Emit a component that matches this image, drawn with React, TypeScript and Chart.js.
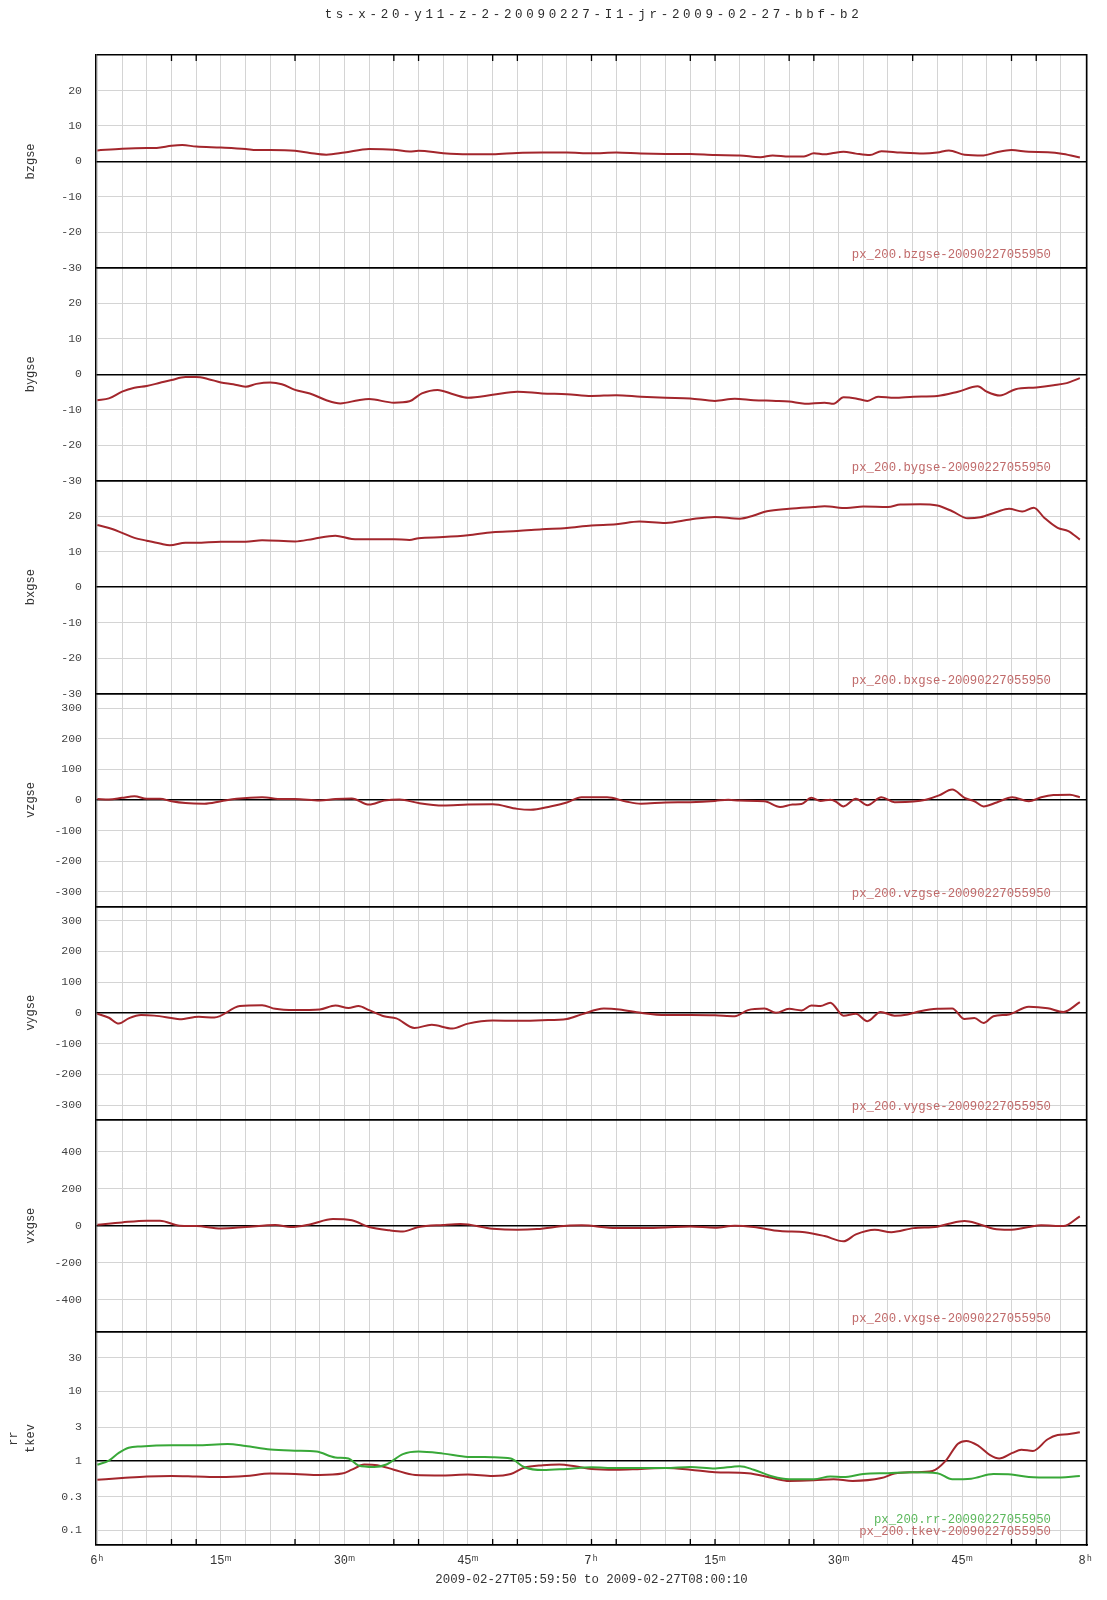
import React, { useEffect, useRef } from 'react';
import Chart from 'chart.js/auto';

const TITLE = 'ts-x-20-y11-z-2-20090227-I1-jr-2009-02-27-bbf-b2';
const X_TITLE = '2009-02-27T05:59:50 to 2009-02-27T08:00:10';

// x in minutes after 06:00
const X_MIN = -10 / 60;
const X_MAX = 120 + 10 / 60;
const xLabelMinutes = [0, 15, 30, 45, 60, 75, 90, 105, 120];
const xLabelTexts = ['6ʰ', '15ᵐ', '30ᵐ', '45ᵐ', '7ʰ', '15ᵐ', '30ᵐ', '45ᵐ', '8ʰ'];
const markMinutes = [9, 12, 24, 36, 39, 48, 51, 60, 63, 72, 75, 84, 87, 99, 111, 114];

const bzgse: [number, number][] = [
  [0, 3.1], [3, 3.6], [6, 3.8], [7.2, 3.8], [9, 4.4], [10.3, 4.6], [12, 4.2], [15, 3.9], [18, 3.5], [19.3, 3.2],
  [21, 3.2], [24, 3.0], [25.8, 2.4], [27.8, 1.9], [30, 2.5], [33, 3.5], [36, 3.3], [37.9, 2.8], [39, 3.0], [42, 2.3],
  [45, 2.0], [48, 2.0], [51, 2.4], [54, 2.5], [57, 2.5], [60, 2.3], [63, 2.5], [66, 2.2], [69, 2.1], [72, 2.1],
  [75, 1.8], [78, 1.7], [80.5, 1.2], [82, 1.7], [84, 1.4], [85.8, 1.4], [87, 2.3], [88.3, 2.0], [89.2, 2.3], [90.6, 2.7],
  [92.1, 2.2], [93.8, 1.8], [95.2, 2.9], [97.5, 2.5], [100.3, 2.2], [102, 2.5], [103.4, 3.1], [105.3, 1.9], [107.6, 1.7], [109.2, 2.6],
  [111, 3.2], [113.1, 2.7], [115.4, 2.6], [117.3, 2.1], [119.3, 1.1],
];

const bygse: [number, number][] = [
  [0, -7.3], [1.4, -6.8], [3, -4.9], [4.5, -3.8], [6, -3.3], [7.6, -2.4], [9, -1.6], [10.7, -0.8], [12, -0.8], [13.4, -1.3],
  [15, -2.3], [16.5, -2.8], [18, -3.5], [19.3, -2.7], [21, -2.3], [22.4, -2.8], [24, -4.4], [25.8, -5.4], [27.8, -7.3], [29.5, -8.2],
  [31.7, -7.3], [33, -7.0], [36, -8.0], [37.9, -7.6], [39.4, -5.4], [41.3, -4.4], [43.3, -5.7], [45, -6.6], [48, -5.8], [51, -4.9],
  [54, -5.4], [57, -5.6], [60, -6.1], [63, -5.9], [66, -6.3], [69, -6.6], [72, -6.8], [75, -7.5], [77.4, -6.9], [79.7, -7.3],
  [82.4, -7.5], [84, -7.7], [85.9, -8.3], [88.3, -8.0], [89.4, -8.3], [90.6, -6.5], [92.1, -6.8], [93.5, -7.5], [94.8, -6.3], [96.8, -6.6],
  [99.1, -6.3], [102, -6.1], [104.5, -4.9], [106.9, -3.4], [108, -4.9], [109.6, -6.0], [111.5, -4.2], [114, -3.7], [116.1, -3.1], [117.7, -2.5],
  [119.3, -1.1],
];

const bxgse: [number, number][] = [
  [0, 17.5], [1.8, 16.4], [3, 15.3], [4.5, 13.9], [6, 13.1], [7.6, 12.3], [8.8, 11.8], [10.7, 12.5], [12, 12.5], [15, 12.8],
  [18, 12.8], [20, 13.2], [24, 12.9], [26.2, 13.6], [28.9, 14.5], [30.9, 13.6], [33, 13.5], [36, 13.5], [37.9, 13.3], [39, 13.8],
  [42, 14.1], [45, 14.6], [48, 15.5], [51, 15.8], [54, 16.3], [57, 16.7], [60, 17.4], [63, 17.7], [65.8, 18.5], [69, 18.1],
  [72, 19.1], [75, 19.8], [78, 19.3], [79.7, 20.2], [81.3, 21.4], [84, 22.1], [87, 22.6], [88.3, 22.8], [91, 22.3], [93, 22.7],
  [96, 22.6], [97.5, 23.3], [99.9, 23.4], [102, 23.0], [103.8, 21.4], [105.7, 19.4], [107.2, 19.7], [109.2, 21.2], [110.7, 22.1], [112.3, 21.3],
  [113.7, 22.4], [115, 19.5], [116.6, 16.7], [117.9, 15.8], [119.3, 13.4],
];

const vzgse: [number, number][] = [
  [0, 3], [1.4, 2], [3, 7], [4.5, 12], [6, 4], [7.6, 4], [9, -4], [10.7, -10], [13, -12], [15, -4],
  [16.9, 4], [20, 9], [22.4, 3], [24, 3], [27, -2], [28.9, 3], [30.9, 5], [33, -15], [34.8, -2], [36.7, 2],
  [39, -10], [42, -18], [45, -15], [48, -14], [51, -29], [52.6, -32], [55, -21], [57, -8], [58.8, 9], [61.9, 9],
  [64.2, -5], [66, -12], [69, -8], [72, -7], [75, -3], [76.6, 1], [78, -2], [81, -4], [82.9, -23], [84.4, -15],
  [85.5, -13], [86.7, 7], [87.8, -3], [89, 1], [89.6, -4], [90.6, -21], [92.1, 4], [93.5, -17], [95.2, 9], [96.8, -7],
  [99.1, -5], [100.6, 1], [102.2, 15], [103.8, 34], [105.3, 7], [106.5, -4], [107.6, -21], [109.2, -8], [111.1, 9], [113.1, -4],
  [114.6, 9], [116.1, 16], [118.1, 17], [119.3, 9],
];

const vygse: [number, number][] = [
  [0, -3], [1.4, -16], [2.6, -35], [3.8, -18], [5.3, -7], [6.9, -9], [9, -17], [10, -21], [12.3, -13], [14.2, -15],
  [17.3, 22], [20, 25], [21.6, 13], [24, 9], [27, 11], [28.9, 24], [30.5, 16], [31.7, 22], [33, 9], [34.8, -11],
  [36.3, -18], [38.5, -49], [40.6, -39], [43.1, -51], [45, -35], [48, -25], [51, -26], [54, -24], [57, -20], [58.8, -5],
  [61.5, 14], [63.4, 11], [66, 0], [69, -7], [72, -7], [75, -8], [77.4, -11], [79, 9], [81, 14], [82.4, 0],
  [84, 13], [85.5, 8], [86.7, 24], [87.8, 22], [89, 33], [90.6, -9], [92.1, -3], [93.5, -27], [95.1, 3], [96.8, -9],
  [98.4, -5], [99.9, 5], [102, 13], [103.8, 14], [105.3, -20], [106.5, -17], [107.6, -33], [108.8, -11], [110.7, -5], [113.1, 20],
  [115.4, 15], [117.3, 3], [119.3, 35],
];

const vxgse: [number, number][] = [
  [0, 5], [3, 18], [6, 27], [7.6, 27], [10, 0], [12, -2], [15, -15], [18, -7], [21.6, 4], [23.5, -7],
  [25.8, 7], [28.6, 36], [30.9, 29], [33, -7], [35.5, -25], [37.1, -31], [39, -7], [42, 4], [44.1, 9], [48, -16],
  [51, -22], [53.4, -18], [57, 0], [58.8, 2], [63, -13], [66, -13], [69, -9], [72, -4], [75, -11], [77.4, 0],
  [79.7, -7], [82.9, -29], [85.9, -35], [88.3, -56], [90.6, -84], [92.1, -47], [94.4, -22], [96.4, -35], [99.1, -13], [102, -5],
  [103.4, 11], [105.3, 25], [106.9, 11], [108.8, -16], [110.7, -22], [113.1, -7], [114.6, 2], [117.3, -2], [119.3, 51],
];

const rr: [number, number][] = [
  [0, 0.87], [1.4, 1.0], [2.6, 1.29], [3.8, 1.53], [5.3, 1.6], [9, 1.66], [12, 1.66], [15.8, 1.73], [18, 1.62], [21, 1.44],
  [24, 1.39], [26.6, 1.35], [28.9, 1.11], [30.5, 1.07], [31.7, 0.85], [33.6, 0.81], [35.1, 0.88], [37.1, 1.24], [39, 1.35], [42, 1.26],
  [45, 1.13], [48, 1.12], [50.2, 1.07], [51.8, 0.81], [54.1, 0.73], [57, 0.76], [60, 0.8], [63, 0.78], [66, 0.78], [69, 0.78],
  [72, 0.81], [75, 0.77], [78, 0.83], [79.7, 0.74], [82, 0.59], [84, 0.54], [87, 0.54], [89, 0.59], [90.6, 0.58], [93, 0.64],
  [96, 0.66], [99, 0.68], [102, 0.66], [103.8, 0.54], [106.1, 0.55], [108.8, 0.64], [111, 0.63], [113.1, 0.58], [116.1, 0.57], [119.3, 0.6],
];

const tkev: [number, number][] = [
  [0, 0.53], [3, 0.56], [6, 0.59], [9, 0.6], [12, 0.59], [15, 0.58], [18, 0.6], [21, 0.65], [24, 0.64], [27, 0.62],
  [29.7, 0.65], [30.9, 0.74], [32.4, 0.88], [34, 0.86], [36, 0.74], [38.6, 0.62], [42, 0.61], [45, 0.63], [48, 0.6], [50.2, 0.64],
  [51.8, 0.79], [54.1, 0.86], [56.1, 0.88], [58, 0.83], [60, 0.76], [63, 0.74], [66, 0.76], [69, 0.78], [72, 0.74], [75, 0.68],
  [79, 0.66], [82, 0.56], [84, 0.51], [87, 0.52], [89.4, 0.54], [91.7, 0.51], [95.2, 0.56], [96.8, 0.65], [99, 0.68], [101.4, 0.71],
  [103, 0.99], [104.5, 1.75], [105.5, 1.92], [106.9, 1.66], [108.4, 1.2], [109.5, 1.07], [111.1, 1.29], [112.2, 1.43], [113.6, 1.38], [115.4, 2.03],
  [116.6, 2.33], [117.8, 2.39], [119.3, 2.56],
];

const bTicks = [-30, -20, -10, 0, 10, 20];
const vTicks = [-300, -200, -100, 0, 100, 200, 300];
const vxTicks = [-400, -200, 0, 200, 400];
const logTicks = [0.1, 0.3, 1, 3, 10, 30];

const RED = '#a3262c';
const GREEN = '#38a838';
const RED_TEXT = '#c06a6a';
const GREEN_TEXT = '#5cb85c';
const MONO = "'Liberation Mono', 'DejaVu Sans Mono', monospace";

type Series = { data: [number, number][]; color: string; textColor: string; legend: string };
type Panel = { id: string; label: string | string[]; log?: boolean; min: number; max: number; ticks: number[]; series: Series[] };

const panels: Panel[] = [
  { id: 'p1', label: 'bzgse', min: -30, max: 30, ticks: bTicks,
    series: [{ data: bzgse, color: RED, textColor: RED_TEXT, legend: 'px_200.bzgse-20090227055950' }] },
  { id: 'p2', label: 'bygse', min: -30, max: 30, ticks: bTicks,
    series: [{ data: bygse, color: RED, textColor: RED_TEXT, legend: 'px_200.bygse-20090227055950' }] },
  { id: 'p3', label: 'bxgse', min: -30, max: 30, ticks: bTicks,
    series: [{ data: bxgse, color: RED, textColor: RED_TEXT, legend: 'px_200.bxgse-20090227055950' }] },
  { id: 'p4', label: 'vzgse', min: -348, max: 348, ticks: vTicks,
    series: [{ data: vzgse, color: RED, textColor: RED_TEXT, legend: 'px_200.vzgse-20090227055950' }] },
  { id: 'p5', label: 'vygse', min: -346, max: 346, ticks: vTicks,
    series: [{ data: vygse, color: RED, textColor: RED_TEXT, legend: 'px_200.vygse-20090227055950' }] },
  { id: 'p6', label: 'vxgse', min: -575, max: 575, ticks: vxTicks,
    series: [{ data: vxgse, color: RED, textColor: RED_TEXT, legend: 'px_200.vxgse-20090227055950' }] },
  { id: 'p7', label: ['rr', 'tkev'], log: true, min: 0.061, max: 70.6, ticks: logTicks,
    series: [
      { data: rr, color: GREEN, textColor: GREEN_TEXT, legend: 'px_200.rr-20090227055950' },
      { data: tkev, color: RED, textColor: RED_TEXT, legend: 'px_200.tkev-20090227055950' },
    ] },
];

const textPlugin = {
  id: 'panelText',
  afterDraw(chart: any) {
    const { ctx, chartArea } = chart;
    ctx.save();
    ctx.fillStyle = '#2a2a2a';
    ctx.font = `12.5px ${MONO}`;
    (ctx as any).letterSpacing = '3.7px';
    ctx.textAlign = 'center';
    ctx.textBaseline = 'middle';
    ctx.fillText(TITLE, (chartArea.left + chartArea.right) / 2 + 2, 15);
    (ctx as any).letterSpacing = '0px';
    ctx.font = `12.3px ${MONO}`;
    ctx.textAlign = 'right';
    panels.forEach((p) => {
      const s = chart.scales[p.id];
      const n = p.series.length;
      p.series.forEach((ser, j) => {
        ctx.fillStyle = ser.textColor;
        ctx.fillText(ser.legend, chartArea.right - 36, s.bottom - 13 - (n - 1 - j) * 12.5);
      });
    });
    const xs = chart.scales.x;
    ctx.strokeStyle = '#000';
    ctx.lineWidth = 1.3;
    markMinutes.forEach((m) => {
      const px = xs.getPixelForValue(m);
      ctx.beginPath();
      ctx.moveTo(px, chartArea.top);
      ctx.lineTo(px, chartArea.top + 6);
      ctx.moveTo(px, chartArea.bottom);
      ctx.lineTo(px, chartArea.bottom - 6);
      ctx.stroke();
    });
    ctx.restore();
  },
};

function fmtTick(v: number) {
  return String(v);
}

export default function App() {
  const ref = useRef<HTMLCanvasElement>(null);

  useEffect(() => {
    Chart.defaults.font.family = MONO;
    const scales: any = {
      x: {
        type: 'linear',
        position: 'bottom',
        min: X_MIN,
        max: X_MAX,
        afterFit: (s: any) => { s.height = 55; },
        afterBuildTicks: (s: any) => {
          const t: { value: number }[] = [];
          for (let m = 0; m <= 120; m += 3) t.push({ value: m });
          s.ticks = t;
        },
        ticks: {
          autoSkip: false,
          maxRotation: 0,
          minRotation: 0,
          padding: 9,
          color: '#333',
          font: { size: 12 },
          callback: (v: number) => {
            const i = xLabelMinutes.indexOf(v);
            return i >= 0 ? xLabelTexts[i] : '';
          },
        },
        grid: { drawTicks: false, color: '#d4d4d4', lineWidth: 1 },
        border: { display: true, color: '#000', width: 1.5 },
        title: { display: true, text: X_TITLE, color: '#333', font: { size: 12.4 }, padding: { top: 0, bottom: 13 } },
      },
      yr: {
        type: 'linear',
        position: 'right',
        afterFit: (s: any) => { s.width = 20; },
        ticks: { display: false },
        grid: { display: false, drawTicks: false },
        border: { display: true, color: '#000', width: 1.5 },
      },
    };

    panels.forEach((p, i) => {
      const multi = Array.isArray(p.label);
      scales[p.id] = {
        type: p.log ? 'logarithmic' : 'linear',
        position: 'left',
        stack: 'panels',
        stackWeight: 1,
        weight: panels.length - i,
        min: p.min,
        max: p.max,
        afterFit: (s: any) => { s.width = 96; },
        afterBuildTicks: (s: any) => {
          const vals = [p.min, ...p.ticks.filter((v) => v > p.min && v < p.max), p.max];
          s.ticks = vals.map((v) => ({ value: v }));
        },
        ticks: {
          autoSkip: false,
          padding: 14,
          color: '#444',
          font: { size: 11.5 },
          callback: (v: number) => (p.ticks.includes(v) ? fmtTick(v) : ''),
        },
        grid: {
          drawTicks: false,
          color: (c: any) => {
            const v = c.tick ? c.tick.value : NaN;
            return v === (p.log ? 1 : 0) || v === p.min || v === p.max ? '#000' : '#d4d4d4';
          },
          lineWidth: (c: any) => {
            const v = c.tick ? c.tick.value : NaN;
            return v === (p.log ? 1 : 0) || v === p.min || v === p.max ? 1.5 : 1;
          },
        },
        border: { display: true, color: '#000', width: 1.5 },
        title: {
          display: true,
          text: p.label,
          color: '#333',
          font: { size: 12, lineHeight: multi ? 1.42 : 1.2 },
          padding: { top: multi ? 5.5 : 24, bottom: 0 },
        },
      };
    });

    const datasets: any[] = [];
    panels.forEach((p) => {
      p.series.forEach((s) => {
        datasets.push({
          label: s.legend,
          data: s.data.map(([x, y]) => ({ x, y })),
          xAxisID: 'x',
          yAxisID: p.id,
          borderColor: s.color,
          backgroundColor: s.color,
          borderWidth: 2,
          pointRadius: 0,
          fill: false,
          cubicInterpolationMode: 'monotone',
        });
      });
    });

    const chart = new Chart(ref.current as HTMLCanvasElement, {
      type: 'line',
      data: { datasets },
      options: {
        animation: false,
        responsive: false,
        devicePixelRatio: 1,
        layout: { padding: { top: 55, left: 0, right: 0, bottom: 0 } },
        plugins: { legend: { display: false }, tooltip: { enabled: false }, title: { display: false } },
        scales,
      },
      plugins: [textPlugin],
    } as any);
    return () => chart.destroy();
  }, []);

  return (
    <div style={{ position: 'absolute', left: 0, top: 0, width: 1107, height: 1600, background: '#fff' }}>
      <canvas ref={ref} width={1107} height={1600} style={{ display: 'block' }} />
    </div>
  );
}
